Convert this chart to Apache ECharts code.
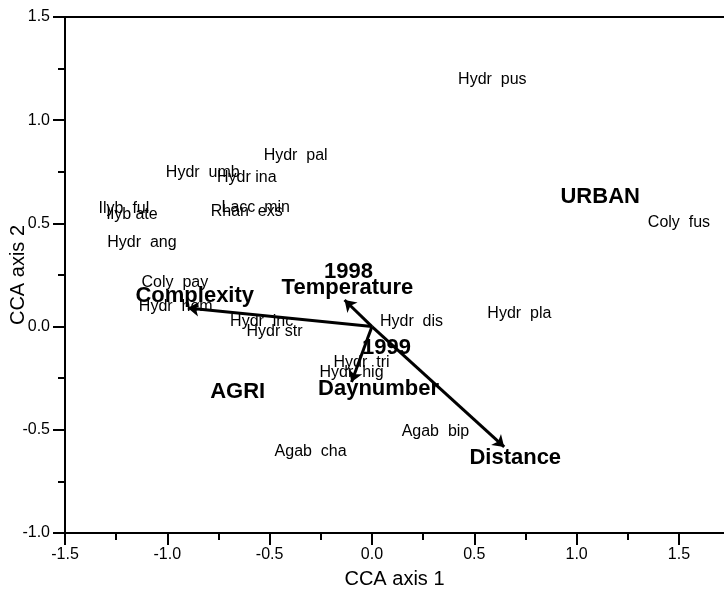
<!DOCTYPE html>
<html>
<head>
<meta charset="utf-8">
<script src="https://cdn.jsdelivr.net/npm/echarts@6/dist/echarts.min.js"></script>
<style>
  html, body { margin: 0; padding: 0; background: #fff; }
  #chart { width: 724px; height: 597px; }
</style>
</head>
<body>
<div id="chart"></div>
<script>
  // species scores (label centres)
  var speciesNames = ['Hydr  pus', 'Hydr  pal', 'Hydr  umb', 'Hydr ina', 'Ilyb  ful', 'Ilyb ate',
    'Lacc  min', 'Rhan  exs', 'Hydr  ang', 'Coly  fus', 'Coly  pay', 'Hydr  hem', 'Hydr  dis',
    'Hydr  pla', 'Hydr  inc', 'Hydr str', 'Hydr  tri', 'Hydr  hig', 'Agab  bip', 'Agab  cha'];
  var speciesX = [0.588, -0.373, -0.827, -0.612, -1.212, -1.173, -0.568, -0.612, -1.124, 1.500,
    -0.963, -0.959, 0.193, 0.720, -0.539, -0.476, -0.051, -0.100, 0.310, -0.300];
  var speciesY = [1.199, 0.827, 0.744, 0.720, 0.570, 0.541, 0.579, 0.555, 0.405, 0.502,
    0.211, 0.095, 0.022, 0.061, 0.022, -0.026, -0.176, -0.225, -0.511, -0.608];

  // nominal variables (centroids)
  var nominalNames = ['URBAN', 'AGRI', '1998', '1999'];
  var nominalX = [1.115, -0.656, -0.115, 0.071];
  var nominalY = [0.628, -0.317, 0.265, -0.104];

  // quantitative variables: arrow tips and label positions
  var arrowNames = ['Complexity', 'Temperature', 'Daynumber', 'Distance'];
  var arrowX = [-0.900, -0.134, -0.100, 0.646];
  var arrowY = [0.090, 0.129, -0.268, -0.583];
  var arrowLabelX = [-0.866, -0.120, 0.032, 0.700];
  var arrowLabelY = [0.148, 0.187, -0.302, -0.637];

  var xTickValues = [-1.5, -1.0, -0.5, 0.0, 0.5, 1.0, 1.5];
  var yTickValues = [-1.0, -0.5, 0.0, 0.5, 1.0, 1.5];
  var xMin = -1.5, xMax = 1.72, yMin = -1.0, yMax = 1.5;

  var FONT = '"Liberation Sans", Arial, sans-serif';

  function pts(names, xs, ys) {
    return names.map(function (n, i) { return { name: n, value: [xs[i], ys[i]] }; });
  }
  function tickFmt(v) { return v.toFixed(1); }

  var chart = echarts.init(document.getElementById('chart'));
  chart.setOption({
    animation: false,
    backgroundColor: '#fff',
    grid: { left: 65, right: 0, top: 17, bottom: 64, containLabel: false, outerBoundsMode: 'none' },
    xAxis: [{
      type: 'value',
      min: xMin, max: xMax, interval: 0.5,
      name: 'CCA axis 1', nameLocation: 'middle', nameGap: 36, nameMoveOverlap: false,
      nameTextStyle: { fontFamily: FONT, fontSize: 20, color: '#000' },
      axisLine: { onZero: false, lineStyle: { color: '#000', width: 2 } },
      axisTick: { inside: false, length: 12, customValues: xTickValues, lineStyle: { color: '#000', width: 2 } },
      minorTick: { show: true, splitNumber: 2, length: 7, lineStyle: { color: '#000', width: 2 } },
      axisLabel: { margin: 14, fontFamily: FONT, fontSize: 16, color: '#000', customValues: xTickValues, formatter: tickFmt },
      splitLine: { show: false }
    }, {
      type: 'value', position: 'top',
      min: xMin, max: xMax,
      axisLine: { onZero: false, lineStyle: { color: '#000', width: 2 } },
      axisTick: { show: false }, axisLabel: { show: false }, splitLine: { show: false }
    }],
    yAxis: {
      type: 'value',
      min: yMin, max: yMax, interval: 0.5,
      name: 'CCA axis 2', nameLocation: 'middle', nameGap: 37, nameMoveOverlap: false,
      nameTextStyle: { fontFamily: FONT, fontSize: 20, color: '#000' },
      axisLine: { onZero: false, lineStyle: { color: '#000', width: 2 } },
      axisTick: { inside: false, length: 12, customValues: yTickValues, lineStyle: { color: '#000', width: 2 } },
      minorTick: { show: true, splitNumber: 2, length: 7, lineStyle: { color: '#000', width: 2 } },
      axisLabel: { margin: 15, fontFamily: FONT, fontSize: 16, color: '#000', customValues: yTickValues, formatter: tickFmt },
      splitLine: { show: false }
    },
    series: [{
      type: 'lines',
      coordinateSystem: 'cartesian2d',
      symbol: ['none', 'arrow'],
      symbolSize: 11,
      lineStyle: { color: '#000', width: 3, opacity: 1 },
      data: arrowNames.map(function (n, i) {
        return { name: n, coords: [[0, 0], [arrowX[i], arrowY[i]]] };
      })
    }, {
      type: 'scatter',
      symbolSize: 0,
      itemStyle: { color: '#000' },
      label: {
        show: true, position: 'inside', formatter: '{b}', opacity: 1, textBorderWidth: 0,
        fontFamily: FONT, fontSize: 16, color: '#000', align: 'center', verticalAlign: 'middle'
      },
      data: pts(speciesNames, speciesX, speciesY)
    }, {
      type: 'scatter',
      symbolSize: 0,
      itemStyle: { color: '#000' },
      label: {
        show: true, position: 'inside', formatter: '{b}', opacity: 1, textBorderWidth: 0,
        fontFamily: FONT, fontSize: 22, fontWeight: 'bold', color: '#000', align: 'center', verticalAlign: 'middle'
      },
      data: pts(nominalNames, nominalX, nominalY).concat(pts(arrowNames, arrowLabelX, arrowLabelY))
    }]
  });
</script>
</body>
</html>
